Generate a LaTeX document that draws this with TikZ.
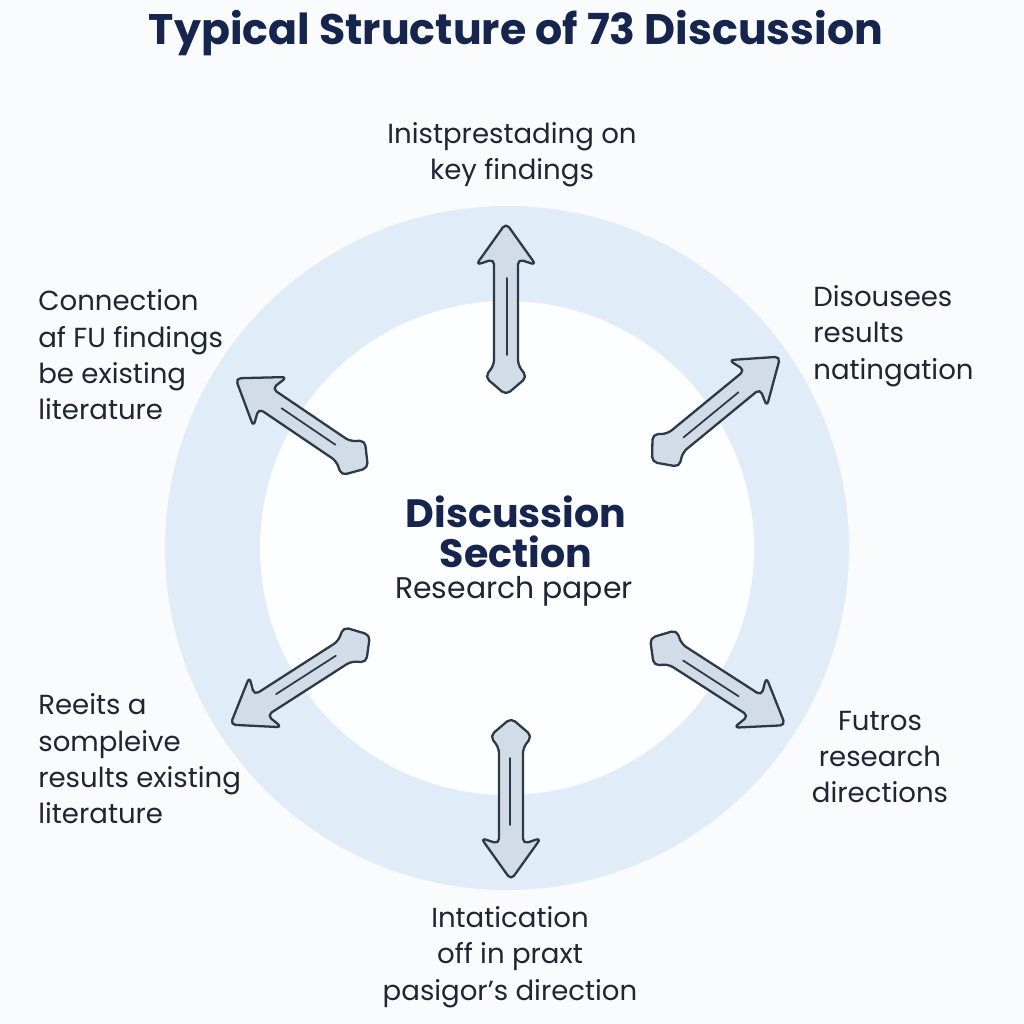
\documentclass[tikz,border=0pt]{standalone}
\usepackage{fontspec}
\setmainfont{Poppins}
\definecolor{bgwhite}{HTML}{F9FBFD}
\definecolor{ringblue}{HTML}{E1ECF9}
\definecolor{innerwhite}{HTML}{FDFEFF}
\definecolor{navy}{HTML}{16254D}
\definecolor{labeltext}{HTML}{1E2633}
\definecolor{arrowfill}{HTML}{D1DCE6}
\definecolor{arrowline}{HTML}{2B3948}
\tikzset{
    label/.style={inner sep=0pt, text=labeltext, font=\fontsize{15.7}{20.7}\selectfont},
    fatarrow/.style={fill=arrowfill, draw=arrowline, line width=1.3pt, rounded corners=3pt, line join=round}
}
% fat double ended arrow: tail x, tail y, angle, length
\newcommand{\fatarrow}[4]{
    \begin{scope}[shift={(#1,#2)}, rotate=#3]
        \draw[fatarrow] (0,0) -- (18,21) -- (30,12) -- (#4-36,12) -- (#4-42,30)
            -- (#4,0) -- (#4-42,-30) -- (#4-36,-12) -- (30,-12) -- (18,-21) -- cycle;
        \draw[arrowline, line width=1pt, line cap=round] (40,1) -- (#4-55,1);
    \end{scope}
}
\begin{document}
\begin{tikzpicture}[x=0.02cm, y=-0.02cm]
    \useasboundingbox[fill=bgwhite] (0,0) rectangle (1024,1024);
    \fill[ringblue] (507,548) circle (342);
    \fill[innerwhite] (507,548) circle (247);

    \node[inner sep=0pt, text=navy, font=\fontsize{24.3}{28}\selectfont\bfseries] (title) at (516,33) {Typical Structure of 73 Discussion};

    \node[inner sep=0pt, text=navy, align=center, font=\fontsize{22.5}{22.5}\selectfont\bfseries] (disc) at (516,532) {Discussion\\Section};
    \node[label, font=\fontsize{17}{20}\selectfont] (paper) at (514,591) {Research paper};

    \fatarrow{506}{395}{90}{172}
    \fatarrow{368}{468}{145.9}{160}
    \fatarrow{652}{462}{39.4}{166}
    \fatarrow{370}{635}{212.7}{166}
    \fatarrow{650}{638}{-32.8}{161}
    \fatarrow{511}{718}{-90}{162}

    \node[label, align=center] (top) at (512,155) {Inistprestading on\\key findings};
    \node[label, align=left, anchor=west] (upleft) at (38,355) {Connection\\af FU findings\\be existing\\literature};
    \node[label, align=left, anchor=west] (upright) at (813,336) {Disousees\\results\\natingation};
    \node[label, align=left, anchor=west] (lowleft) at (38,759) {Reeits a\\sompleive\\results existing\\literature};
    \node[label, align=center] (lowright) at (880,757) {Futros\\research\\directions};
    \node[label, align=center] (bottom) at (510,957) {Intatication\\off in praxt\\pasigor's direction};
\end{tikzpicture}
\end{document}
